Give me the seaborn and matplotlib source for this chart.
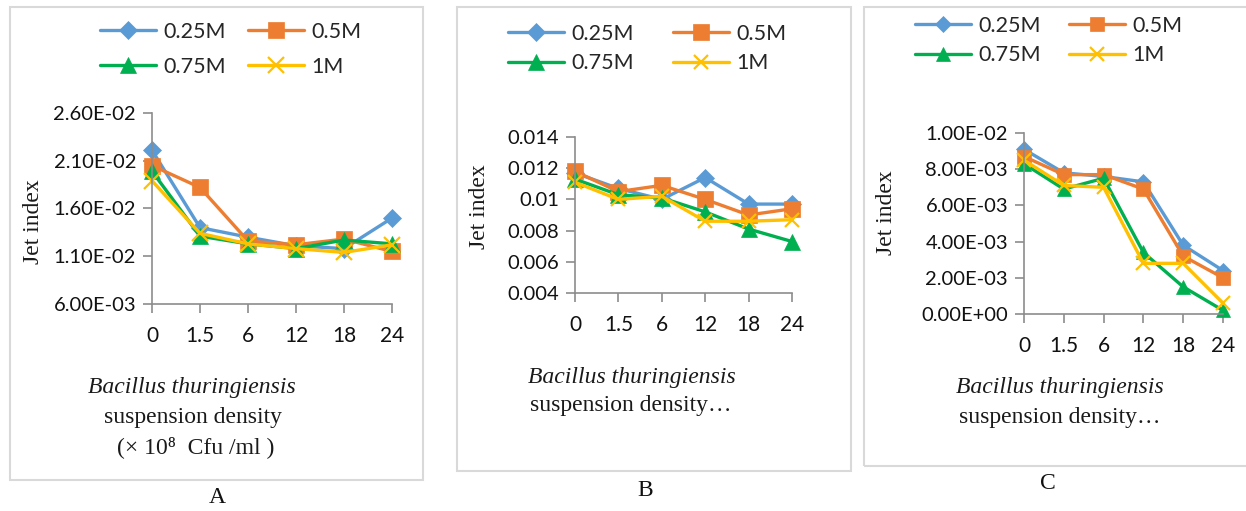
import numpy as np
import pandas as pd
import matplotlib.pyplot as plt
import seaborn as sns
from matplotlib.patches import Rectangle
from matplotlib.ticker import FuncFormatter

# Data
densities = ["0", "1.5", "6", "12", "18", "24"]
series = ["0.25M", "0.5M", "0.75M", "1M"]

a_025 = [0.0221, 0.0140, 0.0130, 0.0121, 0.0118, 0.0150]
a_05 = [0.0205, 0.0182, 0.0126, 0.0122, 0.0128, 0.0115]
a_075 = [0.0199, 0.0131, 0.0123, 0.0118, 0.0127, 0.0123]
a_1 = [0.0189, 0.0134, 0.0123, 0.0118, 0.0114, 0.0122]

b_025 = [0.0117, 0.0107, 0.0100, 0.0114, 0.0097, 0.0097]
b_05 = [0.0118, 0.0105, 0.0109, 0.0100, 0.0090, 0.0094]
b_075 = [0.0113, 0.0103, 0.0101, 0.0092, 0.0081, 0.0073]
b_1 = [0.0111, 0.0100, 0.0102, 0.0086, 0.0086, 0.0087]

c_025 = [0.0091, 0.0078, 0.0076, 0.0073, 0.0038, 0.0024]
c_05 = [0.0087, 0.0077, 0.0077, 0.0069, 0.0032, 0.0020]
c_075 = [0.0083, 0.0069, 0.0075, 0.0034, 0.0015, 0.0002]
c_1 = [0.0085, 0.0071, 0.0070, 0.0028, 0.0028, 0.0006]

a_yticks = [0.006, 0.011, 0.016, 0.021, 0.026]
b_yticks = [0.004, 0.006, 0.008, 0.010, 0.012, 0.014]
c_yticks = [0.0, 0.002, 0.004, 0.006, 0.008, 0.010]

colors = {"0.25M": "#5B9BD5", "0.5M": "#ED7D31", "0.75M": "#00B050", "1M": "#FFC000"}
# seaborn refuses to mix filled and line markers, so 1M gets its "x" afterwards
markers = {"0.25M": "D", "0.5M": "s", "0.75M": "^", "1M": "o"}

W, H = 1246, 511
sns.set_style("white")
plt.rcParams["font.family"] = ["Lato", "DejaVu Sans"]
serif = ["Liberation Serif", "DejaVu Serif"]

fig = plt.figure(figsize=(W / 100, H / 100), dpi=100)


def px_rect(l, t, r, b):
    return [l / W, 1 - b / H, (r - l) / W, (b - t) / H]


def fx(x):
    return x / W


def fy(y):
    return 1 - y / H


def sci(v, pos):
    return "{:.2E}".format(v)


def plain(v, pos):
    return "{:g}".format(round(v, 4))


panels = [
    dict(vals=[a_025, a_05, a_075, a_1], box=(152, 113, 392, 304), yticks=a_yticks, fmt=sci,
         frame=(10, 7, 423, 480), letter=("A", 217, 497), ylab=(33, 222),
         xlab=[("Bacillus thuringiensis", "italic", 192, 388), ("suspension density", "normal", 193, 417),
               ("(\u00d7 10\u2078  Cfu /ml )", "normal", 196, 447)],
         leg=(100, 22, 0.68, 1.0), ms=1.0),
    dict(vals=[b_025, b_05, b_075, b_1], box=(575, 137, 792, 293), yticks=b_yticks, fmt=plain,
         frame=(457, 7, 851, 471), letter=("B", 645, 490), ylab=(479, 207),
         xlab=[("Bacillus thuringiensis", "italic", 632, 377), ("suspension density\u2026", "normal", 631, 405)],
         leg=(508, 24, 0.44, 1.8), ms=0.97),
    dict(vals=[c_025, c_05, c_075, c_1], box=(1024, 133, 1223, 314), yticks=c_yticks, fmt=sci,
         frame=(864, 7, 1252, 466), letter=("C", 1048, 483), ylab=(886, 213),
         xlab=[("Bacillus thuringiensis", "italic", 1060, 388), ("suspension density\u2026", "normal", 1060, 417)],
         leg=(915, 16, 0.44, 1.3), ms=0.92),
]

for p in panels:
    fig.patches.append(Rectangle((fx(p["frame"][0]), fy(p["frame"][3])),
                                 fx(p["frame"][2] - p["frame"][0]), (p["frame"][3] - p["frame"][1]) / H,
                                 transform=fig.transFigure, fill=False, edgecolor="#d9d9d9", lw=1.5))
    ax = fig.add_axes(px_rect(*p["box"]))
    df = pd.DataFrame({
        "pos": np.tile(np.arange(len(densities)), len(series)),
        "Jet index": np.concatenate(p["vals"]),
        "conc": np.repeat(series, len(densities)),
    })
    sns.lineplot(data=df, x="pos", y="Jet index", hue="conc", style="conc", hue_order=series,
                 style_order=series, palette=colors, markers=markers, dashes=False, errorbar=None,
                 linewidth=2.4, markersize=11.5 * p["ms"], legend=False, ax=ax, clip_on=False)
    for line in ax.lines:
        line.set_markeredgecolor(line.get_color())
        line.set_markerfacecolor(line.get_color())
        if line.get_marker() == "o":
            line.set_marker("x")
            line.set_markersize(11 * p["ms"])
            line.set_markeredgewidth(1.6)
        elif line.get_marker() == "D":
            line.set_markersize(9 * p["ms"])
            line.set_markeredgewidth(0.5)
        else:
            line.set_markeredgewidth(0.5)

    ax.set_xlim(0, len(densities) - 1)
    ax.set_ylim(p["yticks"][0], p["yticks"][-1])
    ax.set_xticks(range(len(densities)))
    ax.set_xticklabels(densities)
    ax.set_yticks(p["yticks"])
    ax.yaxis.set_major_formatter(FuncFormatter(p["fmt"]))
    for s in ["top", "right"]:
        ax.spines[s].set_visible(False)
    for s in ["left", "bottom"]:
        ax.spines[s].set_color("#8c8c8c")
        ax.spines[s].set_linewidth(1.2)
    ax.tick_params(axis="both", which="major", direction="out", length=6.5, width=1.2,
                   color="#8c8c8c", labelcolor="#111111", left=True, bottom=True)
    ax.tick_params(axis="y", labelsize=14.5, pad=5)
    ax.tick_params(axis="x", labelsize=15, pad=9)
    ax.set_xlabel("")
    ax.set_ylabel("Jet index", family=serif, fontsize=17, color="#1a1a1a")
    l, t, r, b = p["box"]
    ax.yaxis.set_label_coords((p["ylab"][0] + 11 - l) / (r - l), (b - p["ylab"][1]) / (b - t))

    for txt, style, x, y in p["xlab"]:
        fig.text(fx(x), fy(y), txt, family=serif, style=style, fontsize=17,
                 ha="center", va="center", color="#1a1a1a")
    fig.text(fx(p["letter"][1]), fy(p["letter"][2]), p["letter"][0], family=serif,
             fontsize=17, ha="center", va="center", color="#111111")

    handles = ax.lines[:4]
    order = [0, 2, 1, 3]
    lx, ly, lsp, csp = p["leg"]
    ax.legend([handles[i] for i in order], [series[i] for i in order], ncol=2,
              loc="upper left", bbox_to_anchor=(fx(lx), fy(ly)), bbox_transform=fig.transFigure,
              frameon=False, fontsize=15.5, handlelength=2.6, handletextpad=0.35,
              columnspacing=csp, labelspacing=lsp, borderpad=0, borderaxespad=0)

fig.savefig("out.png", dpi=100)
